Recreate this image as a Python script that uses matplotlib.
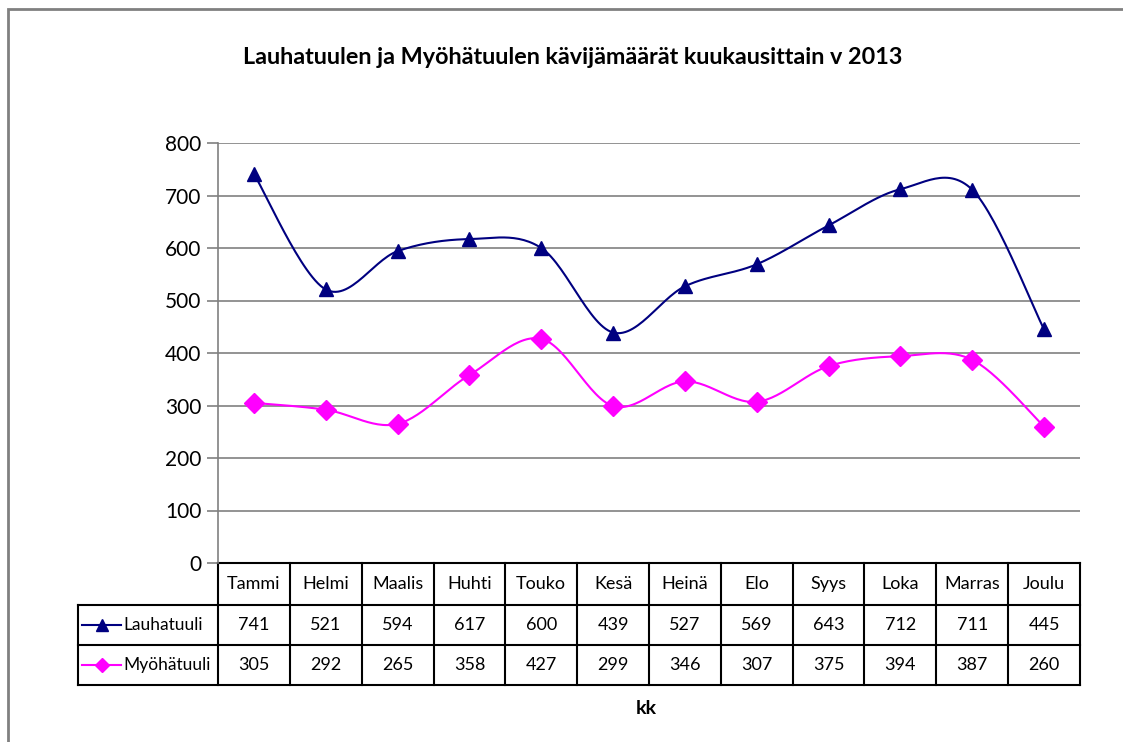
import numpy as np
import matplotlib.pyplot as plt
from matplotlib.lines import Line2D

plt.rcParams['font.family'] = ['Lato', 'DejaVu Sans']

months = ['Tammi', 'Helmi', 'Maalis', 'Huhti', 'Touko', 'Kesä',
          'Heinä', 'Elo', 'Syys', 'Loka', 'Marras', 'Joulu']
lauhatuuli = [741, 521, 594, 617, 600, 439, 527, 569, 643, 712, 711, 445]
myohatuuli = [305, 292, 265, 358, 427, 299, 346, 307, 375, 394, 387, 260]

series = [('Lauhatuuli', lauhatuuli, '#000080', '^', 10),
          ('Myöhätuuli', myohatuuli, '#FF00FF', 'D', 10)]


def smooth(y, steps=30):
    # Catmull-Rom style smoothing like Excel's smoothed lines
    y = np.asarray(y, dtype=float)
    x = np.arange(len(y), dtype=float)
    px = np.concatenate([[x[0]], x, [x[-1]]])
    py = np.concatenate([[y[0]], y, [y[-1]]])
    xs, ys = [], []
    t = np.linspace(0, 1, steps)
    for i in range(1, len(px) - 2):
        p0x, p1x, p2x, p3x = px[i - 1], px[i], px[i + 1], px[i + 2]
        p0y, p1y, p2y, p3y = py[i - 1], py[i], py[i + 1], py[i + 2]
        c1x = p1x + (p2x - p0x) / 6
        c1y = p1y + (p2y - p0y) / 6
        c2x = p2x - (p3x - p1x) / 6
        c2y = p2y - (p3y - p1y) / 6
        bx = (1 - t) ** 3 * p1x + 3 * (1 - t) ** 2 * t * c1x + 3 * (1 - t) * t ** 2 * c2x + t ** 3 * p2x
        by = (1 - t) ** 3 * p1y + 3 * (1 - t) ** 2 * t * c1y + 3 * (1 - t) * t ** 2 * c2y + t ** 3 * p2y
        xs.extend(bx)
        ys.extend(by)
    return np.array(xs), np.array(ys)


fig = plt.figure(figsize=(11.23, 7.42), dpi=100)
ax = fig.add_axes([218 / 1123, 1 - 563 / 742, 862 / 1123, 420 / 742])

# chart frame
fig.patches.append(plt.Rectangle((8 / 1123, -0.01), 1.1, 1 - 9 / 742 + 0.01,
                                 transform=fig.transFigure, fill=False,
                                 edgecolor='#808080', linewidth=2))

x = np.arange(len(months))
for name, vals, color, marker, ms in series:
    sx, sy = smooth(vals)
    ax.plot(sx, sy, color=color, linewidth=1.5, zorder=3)
    ax.plot(x, vals, linestyle='none', marker=marker, color=color,
            markersize=ms, zorder=4)

ax.set_xlim(-0.5, len(months) - 0.5)
ax.set_ylim(0, 800)
ax.set_yticks(range(0, 801, 100))
ax.yaxis.grid(True, color='#808080', linewidth=1.2)
ax.set_axisbelow(True)
ax.set_xticks([])
for s in ['top', 'right', 'bottom']:
    ax.spines[s].set_visible(False)
ax.spines['left'].set_color('#808080')
ax.spines['left'].set_linewidth(1.2)
ax.tick_params(axis='y', length=8, color='#808080', width=1.2,
               labelsize=15, pad=4)

fig.text(573 / 1123, 1 - 58 / 742, 'Lauhatuulen ja Myöhätuulen kävijämäärät kuukausittain v 2013',
         ha='center', va='center', fontsize=16.8, fontweight='bold')

# data table
tr = ax.get_xaxis_transform()
row_edges = [0, -0.1, -0.195, -0.29]
left = -0.5 - 140 / 862 * 12
lw = 1.5
ax.plot([-0.5, 11.5], [0, 0], color='black', lw=lw, transform=tr, clip_on=False)
for yv in row_edges[1:]:
    ax.plot([left, 11.5], [yv, yv], color='black', lw=lw, transform=tr, clip_on=False)
for i in range(len(months) + 1):
    ax.plot([i - 0.5, i - 0.5], [0, row_edges[-1]], color='black', lw=lw,
            transform=tr, clip_on=False)
ax.plot([left, left], [row_edges[1], row_edges[-1]], color='black', lw=lw,
        transform=tr, clip_on=False)

for i, m in enumerate(months):
    ax.text(i, (row_edges[0] + row_edges[1]) / 2, m, transform=tr,
            ha='center', va='center', fontsize=13)
for r, (name, vals, color, marker, ms) in enumerate(series):
    yc = (row_edges[r + 1] + row_edges[r + 2]) / 2
    for i, v in enumerate(vals):
        ax.text(i, yc, str(v), transform=tr, ha='center', va='center', fontsize=13)
    lx0 = left + 0.06
    lx1 = left + 0.6
    ax.add_line(Line2D([lx0, lx1], [yc, yc], color=color, lw=1.5,
                       transform=tr, clip_on=False))
    ax.add_line(Line2D([(lx0 + lx1) / 2], [yc], marker=marker, color=color,
                       markersize=8 if marker == '^' else 7, transform=tr,
                       clip_on=False))
    ax.text(lx1 + 0.03, yc, name, transform=tr, ha='left', va='center', fontsize=12.5)

fig.text(646 / 1123, 1 - 708 / 742, 'kk', ha='center', va='center',
         fontsize=14, fontweight='bold')

fig.savefig('out.png', dpi=100)
